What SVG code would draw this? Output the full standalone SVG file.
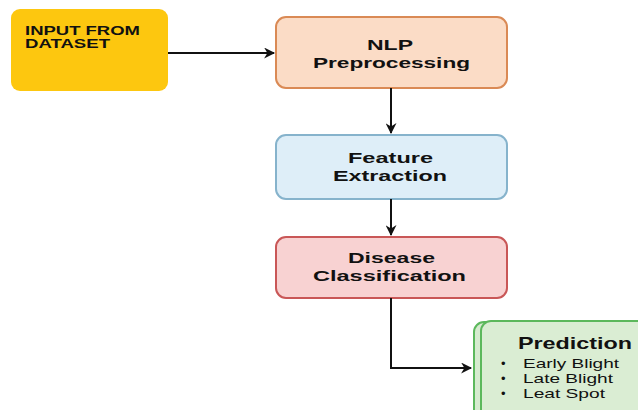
<svg xmlns="http://www.w3.org/2000/svg" width="638" height="410" viewBox="0 0 638 410">
<defs>
<style>
.t{font-family:"Liberation Sans",Arial,sans-serif;font-weight:bold;fill:#111}
.c{font-size:15px}
.l{font-family:"Liberation Sans",Arial,sans-serif;font-size:13px;fill:#111}
.e{stroke:#111;stroke-width:2;fill:none}
</style>
<marker id="a" viewBox="0 0 10 10" refX="9" refY="5" markerWidth="13" markerHeight="11" orient="auto" markerUnits="userSpaceOnUse"><path d="M0,0 L10,5 L0,10 L3,5 Z" fill="#111"/></marker>
</defs>
<rect width="638" height="410" fill="#fff"/>
<g id="input">
<rect x="11" y="9" width="157" height="82" rx="9" fill="#fdc70f"/>
<text class="t" x="25" y="35" font-size="12" textLength="115" lengthAdjust="spacingAndGlyphs">INPUT FROM</text>
<text class="t" x="25" y="48" font-size="12" textLength="85" lengthAdjust="spacingAndGlyphs">DATASET</text>
</g>
<g id="nlp">
<rect x="276" y="17" width="231" height="71" rx="10" fill="#fbdcc6" stroke="#da8a55" stroke-width="2"/>
<text class="t c" x="367" y="50" textLength="46" lengthAdjust="spacingAndGlyphs">NLP</text>
<text class="t c" x="313" y="68" textLength="157" lengthAdjust="spacingAndGlyphs">Preprocessing</text>
</g>
<g id="feature">
<rect x="276" y="135" width="231" height="64" rx="10" fill="#deeef8" stroke="#86b3cc" stroke-width="2"/>
<text class="t c" x="348" y="163" textLength="85" lengthAdjust="spacingAndGlyphs">Feature</text>
<text class="t c" x="333" y="181" textLength="114" lengthAdjust="spacingAndGlyphs">Extraction</text>
</g>
<g id="disease">
<rect x="276" y="237" width="231" height="61" rx="10" fill="#f8d2d2" stroke="#c95757" stroke-width="2"/>
<text class="t c" x="348" y="263" textLength="87" lengthAdjust="spacingAndGlyphs">Disease</text>
<text class="t c" x="313" y="281" textLength="153" lengthAdjust="spacingAndGlyphs">Classification</text>
</g>
<g id="prediction">
<rect x="474" y="322" width="190" height="100" rx="10" fill="#d6ebcf" stroke="#5cb85c" stroke-width="2"/>
<rect x="481" y="321" width="190" height="100" rx="10" fill="#daedd3" stroke="#5cb85c" stroke-width="2"/>
<text class="t" x="518" y="349" font-size="16.5" textLength="114" lengthAdjust="spacingAndGlyphs">Prediction</text>
<text class="l" x="501" y="368">•</text><text class="l" x="523" y="368" textLength="96" lengthAdjust="spacingAndGlyphs">Early Blight</text>
<text class="l" x="501" y="383">•</text><text class="l" x="523" y="383" textLength="90" lengthAdjust="spacingAndGlyphs">Late Blight</text>
<text class="l" x="501" y="398">•</text><text class="l" x="523" y="398" textLength="82" lengthAdjust="spacingAndGlyphs">Leat Spot</text>
</g>
<g id="connectors">
<line class="e" x1="168" y1="53" x2="274" y2="53" marker-end="url(#a)"/>
<line class="e" x1="391" y1="88" x2="391" y2="133" marker-end="url(#a)"/>
<line class="e" x1="391" y1="199" x2="391" y2="235" marker-end="url(#a)"/>
<polyline class="e" points="391,298 391,368 471,368" marker-end="url(#a)"/>
</g>
</svg>
